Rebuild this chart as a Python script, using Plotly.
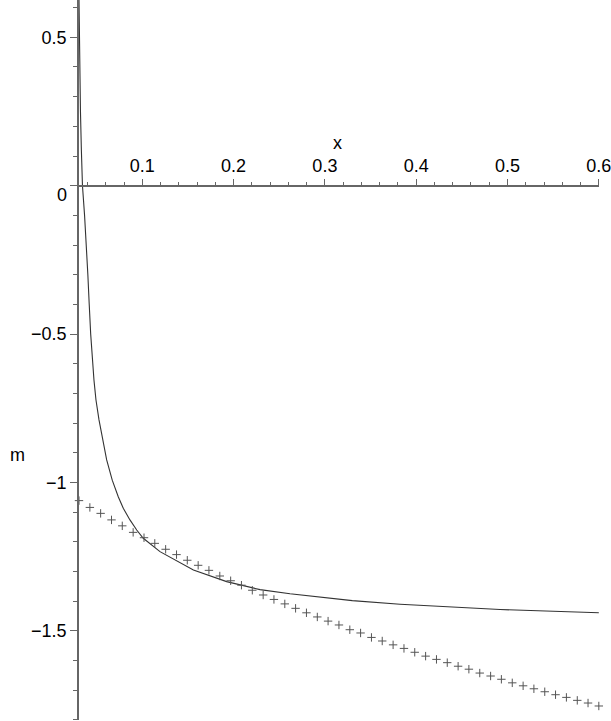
import plotly.graph_objects as go

# solid curve m(x)
curve_x = [0.0307, 0.0310, 0.0316, 0.0323, 0.0333, 0.0345, 0.0368, 0.0389,
           0.0404, 0.0419, 0.0435, 0.0471, 0.0493, 0.0526, 0.0566, 0.0610,
           0.0671, 0.0737, 0.0792, 0.0865, 0.0939, 0.1011, 0.1194, 0.1560,
           0.1924, 0.2290, 0.2618, 0.2837, 0.3300, 0.3823, 0.4042, 0.4500,
           0.4918, 0.5500, 0.6000]
curve_m = [0.626, 0.500, 0.350, 0.250, 0.120, 0.000, -0.100, -0.200,
           -0.300, -0.400, -0.500, -0.655, -0.722, -0.789, -0.857, -0.924,
           -0.992, -1.048, -1.087, -1.126, -1.160, -1.188, -1.233, -1.295,
           -1.334, -1.361, -1.375, -1.383, -1.398, -1.410, -1.414, -1.422,
           -1.428, -1.434, -1.439]

# "+" points
pts_x = [0.0307, 0.0426, 0.0544, 0.0663, 0.0781, 0.0900, 0.1019, 0.1137,
         0.1256, 0.1375, 0.1493, 0.1612, 0.1730, 0.1849, 0.1968, 0.2086,
         0.2205, 0.2324, 0.2442, 0.2561, 0.2679, 0.2798, 0.2917, 0.3035,
         0.3154, 0.3273, 0.3391, 0.3510, 0.3628, 0.3747, 0.3866, 0.3984,
         0.4103, 0.4222, 0.4340, 0.4459, 0.4577, 0.4696, 0.4815, 0.4933,
         0.5052, 0.5171, 0.5289, 0.5408, 0.5526, 0.5645, 0.5764, 0.5882,
         0.6000]
pts_m = [-1.061, -1.084, -1.104, -1.126, -1.146, -1.168, -1.186, -1.205,
         -1.225, -1.243, -1.262, -1.279, -1.296, -1.315, -1.331, -1.346,
         -1.363, -1.379, -1.394, -1.409, -1.424, -1.439, -1.453, -1.467,
         -1.480, -1.496, -1.507, -1.522, -1.534, -1.547, -1.559, -1.572,
         -1.585, -1.596, -1.607, -1.619, -1.629, -1.642, -1.652, -1.663,
         -1.675, -1.685, -1.695, -1.705, -1.715, -1.724, -1.734, -1.743,
         -1.753]

x_ticks = [0.1, 0.2, 0.3, 0.4, 0.5, 0.6]
x_labels = ["0.1", "0.2", "0.3", "0.4", "0.5", "0.6"]
y_ticks = [-1.5, -1.0, -0.5, 0.0, 0.5]
y_labels = ["\u22121.5", "\u22121", "\u22120.5", "", "0.5"]

x_range = [0.0307, 0.6002]
y_range = [-1.8002, 0.6257]

axis_col = "#666666"
ink = "#333333"
font = dict(family="Liberation Sans, Arial, sans-serif", size=18, color="black")

fig = go.Figure()
fig.add_trace(go.Scatter(x=curve_x, y=curve_m, mode="lines",
                         line=dict(color=ink, width=1.1), cliponaxis=False))
fig.add_trace(go.Scatter(x=pts_x, y=pts_m, mode="markers", cliponaxis=False,
                         marker=dict(symbol="cross-thin", size=6,
                                     line=dict(color="#555555", width=1))))

x_pos = (0 - y_range[0]) / (y_range[1] - y_range[0])

fig.update_layout(
    width=611, height=721,
    margin=dict(l=79, r=12, t=0, b=1, autoexpand=False),
    paper_bgcolor="white", plot_bgcolor="white",
    showlegend=False,
    font=font,
    xaxis=dict(range=x_range, anchor="free", position=x_pos, side="top",
               automargin=False, ticklabeloverflow="allow",
               tickmode="array", tickvals=x_ticks, ticktext=x_labels,
               ticks="outside", ticklen=6, tickwidth=1.2, tickcolor=axis_col,
               showline=True, linecolor=axis_col, linewidth=1.5,
               showgrid=False, zeroline=False,
               minor=dict(tickmode="linear", tick0=0, dtick=0.02,
                          ticks="outside", ticklen=3, tickcolor=axis_col,
                          showgrid=False)),
    yaxis=dict(range=y_range, automargin=False,
               tickmode="array", tickvals=y_ticks, ticktext=y_labels,
               ticks="outside", ticklen=7, tickwidth=1.2, tickcolor=axis_col,
               showline=True, linecolor=axis_col, linewidth=1.5,
               showgrid=False, zeroline=False,
               minor=dict(tickmode="linear", tick0=0, dtick=0.1,
                          ticks="outside", ticklen=4, tickcolor=axis_col,
                          showgrid=False)),
)

fig.add_annotation(text="0", xref="paper", x=0, xshift=-10, xanchor="right",
                   yref="y", y=0, yshift=-9, showarrow=False)
fig.add_annotation(text="x", xref="x", x=0.3143, yref="y", y=0, yshift=43,
                   showarrow=False)
fig.add_annotation(text="m", xref="paper", x=0, xshift=-71, yref="y", y=-0.907,
                   showarrow=False)

# drop the page's default body margin so the figure sits at the window corner
fig.write_html("out.html", config={"displayModeBar": False},
               post_script="document.body.style.margin='0';")
